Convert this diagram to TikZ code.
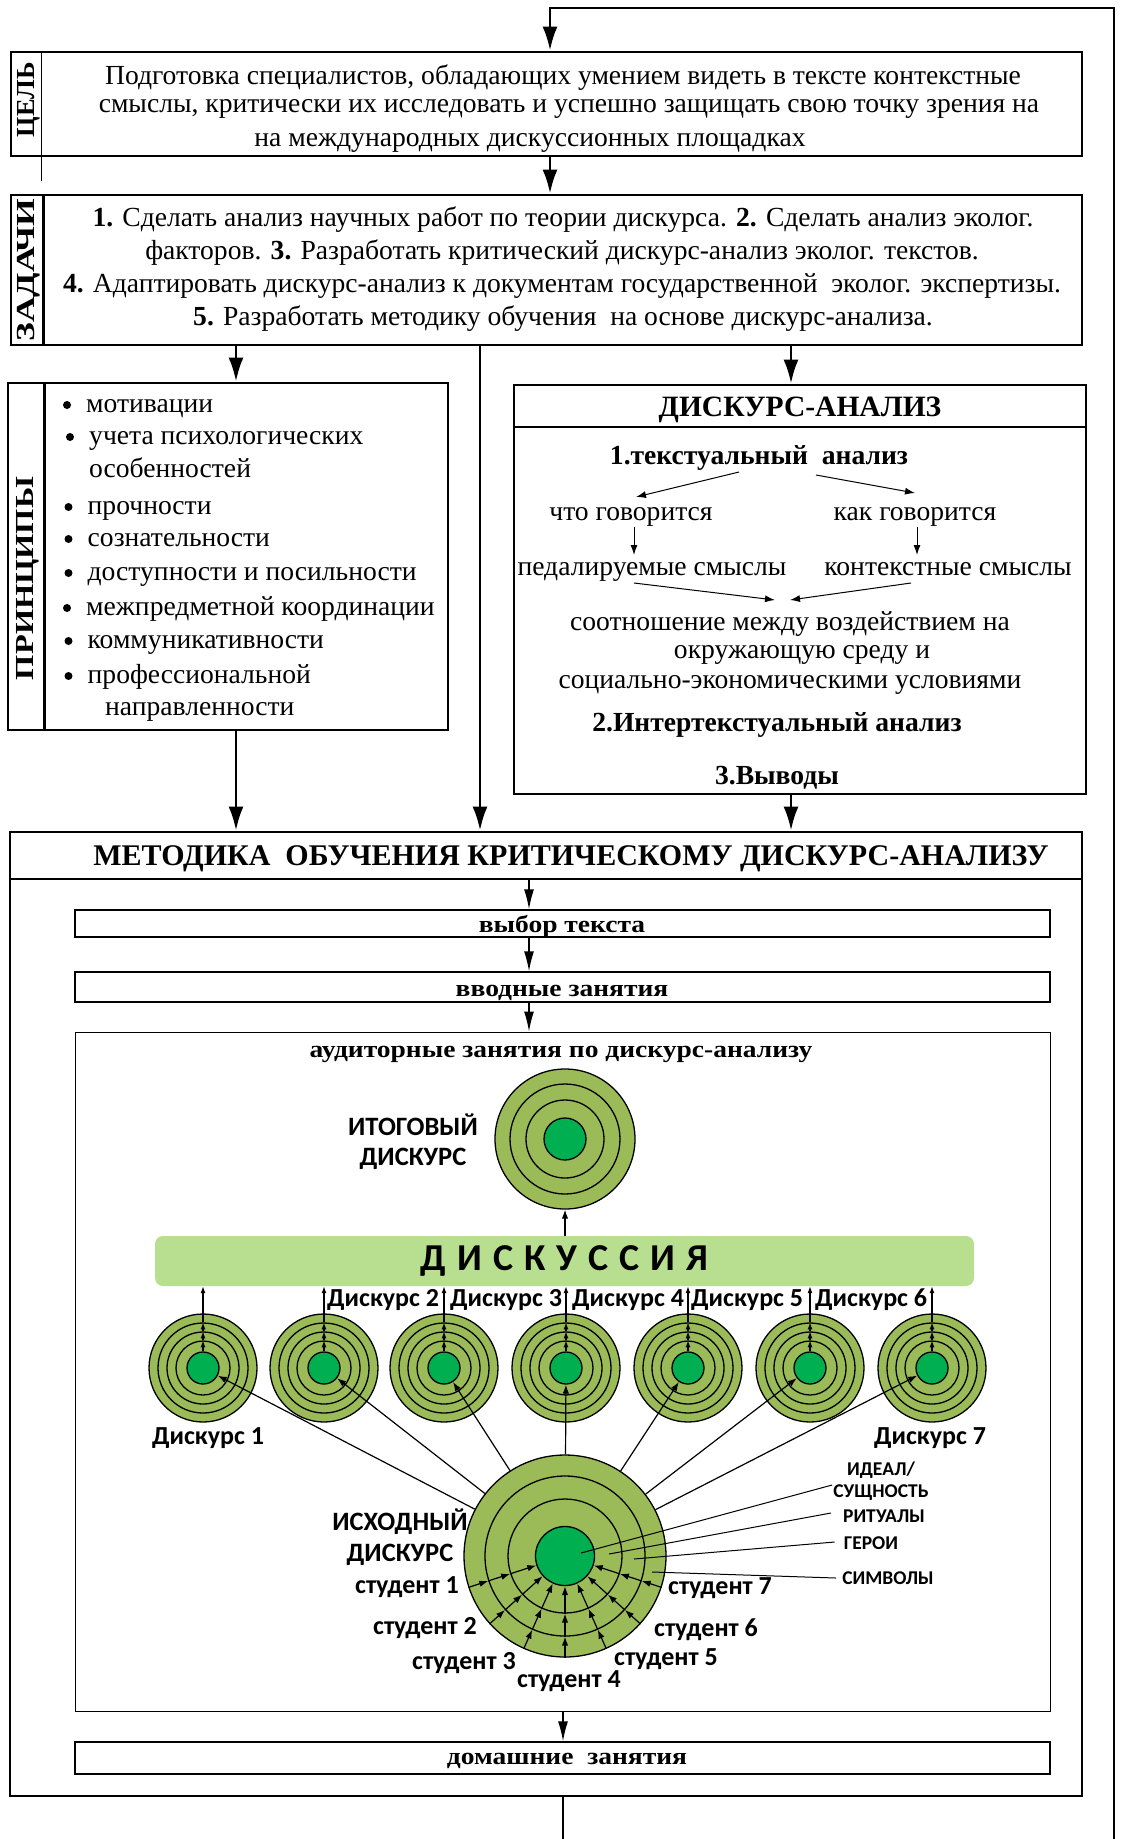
\documentclass[tikz,border=0pt]{standalone}
\usepackage{fontspec}
\usepackage{graphicx}
\setmainfont{Liberation Serif}
\newfontfamily\calib{Carlito}
\usetikzlibrary{arrows.meta,calc}
\definecolor{ringgreen}{RGB}{155,187,89}
\definecolor{coregreen}{RGB}{0,176,80}
\definecolor{barfill}{RGB}{184,223,144}
\newcommand\fs[2]{\fontsize{#1}{#2}\selectfont}
\newcommand\dgap{\kern 11pt}
\newcommand\wide[1]{\scalebox{1.146}[1]{#1}}
\begin{document}
\begin{tikzpicture}[x=1pt,y=-1pt,
  mainbox/.style={draw,line width=2.8pt,inner sep=0pt},
  subbox/.style={draw,line width=1.3pt,inner sep=0pt},
  thinbox/.style={draw,line width=0.9pt,inner sep=0pt},
  bigline/.style={line width=2.8pt},
  bigarrow/.style={line width=2.8pt,-{Latex[length=24pt,width=15pt]}},
  midarrow/.style={line width=1.4pt,-{Latex[length=20pt,width=10pt]}},
  thinarrow/.style={line width=1pt,-{Latex[length=10pt,width=7pt]}},
  ringarrow/.style={line width=1.2pt,-{Latex[length=9pt,width=6.5pt]}},
  tinyarrow/.style={line width=1.1pt,-{Latex[length=7pt,width=5pt]}},
  txt/.style={inner sep=0pt,font=\fs{27.6}{31}},
  btxt/.style={inner sep=0pt,font=\bfseries\fs{27.6}{31}},
  stxt/.style={inner sep=0pt,font=\bfseries\fs{24}{28}},
  lbl/.style={inner sep=0pt,font=\calib\bfseries\fs{26}{30}},
  slbl/.style={inner sep=0pt,font=\calib\bfseries\fs{19.5}{22}},
  ringc/.style={circle,draw,line width=1.3pt,fill=ringgreen,inner sep=0pt,minimum size=#1},
  corec/.style={circle,draw,line width=1.3pt,fill=coregreen,inner sep=0pt,minimum size=#1},
  vlabel/.style={rotate=90,inner sep=0pt,font=\bfseries\fs{26}{26}},
  item/.style={txt,anchor=base west},
]
\useasboundingbox (0,0) rectangle (1120,1839);

% columns of the vertical connectors
\coordinate (xa) at (550,0);
\coordinate (xp) at (236,0);
\coordinate (xm) at (480,0);
\coordinate (xd) at (791,0);
\coordinate (xs) at (529,0);
\coordinate (xh) at (563,0);
\coordinate (loopTop) at (1114,8);
\coordinate (loopBot) at (1114,1839);
\coordinate (outBot) at (563,1839);

% ---------- goal ----------
\node[mainbox,minimum width=1071pt,minimum height=104pt] (goal) at (546.5,104) {};
\draw[line width=0.8pt] ($(goal.north west)+(32,0)$) -- ++(0,130);
\node[vlabel] (goallbl) at (29,99.5) {\resizebox{75pt}{\height}{ЦЕЛЬ}};
\node[txt] (g1) at (563,78) {Подготовка специалистов, обладающих умением видеть в тексте контекстные};
\node[txt] (g2) at (569,109) {смыслы, критически их исследовать и успешно защищать свою точку зрения на};
\node[txt] (g3) at (530,143) {на международных дискуссионных площадках};

% ---------- tasks ----------
\node[mainbox,minimum width=1071pt,minimum height=150pt] (tasks) at (546.5,270) {};
\draw[line width=2.5pt] ($(tasks.north west)+(34,0)$) -- ($(tasks.south west)+(34,0)$);
\node[vlabel] (taskslbl) at (29,270) {\resizebox{143pt}{\height}{ЗАДАЧИ}};
\node[txt] (k1) at (563,220) {\textbf{1.} Сделать анализ научных работ по теории дискурса. \textbf{2.} Сделать анализ эколог.};
\node[txt] (k2) at (562,253) {факторов. \textbf{3.} Разработать критический дискурс-анализ эколог. текстов.};
\node[txt] (k3) at (562,286) {\textbf{4.} Адаптировать дискурс-анализ к документам государственной\ \ эколог. экспертизы.};
\node[txt] (k4) at (563,319) {\textbf{5.} Разработать методику обучения\ \ на основе дискурс-анализа.};

% ---------- principles ----------
\node[mainbox,minimum width=440pt,minimum height=347pt] (princ) at (228,556.5) {};
\draw[line width=2.5pt] ($(princ.north west)+(38,0)$) -- ($(princ.south west)+(38,0)$);
\node[vlabel] (princlbl) at (28,578.5) {\resizebox{203pt}{\height}{ПРИНЦИПЫ}};
\node[item] (p1) at (86,412) {мотивации};
\node[item] (p2) at (89,444) {учета психологических};
\node[item] (p2b) at (89,477) {особенностей};
\node[item] (p3) at (87.5,514) {прочности};
\node[item] (p4) at (87.5,546) {сознательности};
\node[item] (p5) at (87.5,580) {доступности и посильности};
\node[item] (p6) at (86,615) {межпредметной координации};
\node[item] (p7) at (87.5,648) {коммуникативности};
\node[item] (p8) at (87.5,683) {профессиональной};
\node[item] (p8b) at (105,715) {направленности};
% list bullets
\foreach \n in {p1,p2,p3,p4,p5,p6,p7,p8}
  \fill ($(\n.base west)+(-19,-7)$) circle (4pt);

% ---------- discourse analysis ----------
\node[mainbox,minimum width=572pt,minimum height=409pt] (da) at (800,589.5) {};
\node[mainbox,minimum width=572pt,minimum height=42pt] (dahead) at (800,406) {};
\node[btxt,font=\bfseries\fs{29.5}{31}] (dat) at (800,409.5) {ДИСКУРС-АНАЛИЗ};
\node[btxt] (t1) at (759,458) {1.текстуальный\ \ анализ};
\node[txt] (what) at (631,517) {что говорится};
\node[txt] (how) at (915,517) {как говорится};
\node[txt] (ped) at (652,571.5) {педалируемые смыслы};
\node[txt] (ctx) at (948,569) {контекстные смыслы};
\node[txt] (r1) at (790,624) {соотношение между воздействием на};
\node[txt] (r2) at (802,655) {окружающую среду и};
\node[txt] (r3) at (790,685) {социально-экономическими условиями};
\node[btxt] (t2) at (777,725) {2.Интертекстуальный анализ};
\node[btxt] (t3) at (777,778) {3.Выводы};
\draw[thinarrow] ($(t1)+(-20,14)$) -- ($(what)+(5,-20)$);
\draw[thinarrow] ($(t1)+(57,17)$) -- ($(how)+(0,-24)$);
\draw[thinarrow] ($(what)+(3,10)$) -- ($(ped)+(-18,-16.5)$);
\draw[thinarrow] ($(how)+(2,10)$) -- ($(ctx)+(-31,-14)$);
\draw[thinarrow] ($(ped)+(-18,11.5)$) -- ($(r1)+(-15,-24)$);
\draw[thinarrow] ($(ctx)+(-37,14)$) -- ($(r1)+(0,-24)$);

% ---------- methodology ----------
\node[mainbox,minimum width=1072pt,minimum height=964pt] (meth) at (546,1314) {};
\node[mainbox,minimum width=1072pt,minimum height=47pt] (methhead) at (546,855.5) {};
\node[btxt,font=\bfseries\fs{30}{31}] (metht) at (571,858.5) {МЕТОДИКА\ \ ОБУЧЕНИЯ КРИТИЧЕСКОМУ ДИСКУРС-АНАЛИЗУ};
\node[subbox,minimum width=975pt,minimum height=27pt] (sel) at (562.5,923.5) {};
\node[stxt] (selt) at (562,926) {\wide{выбор текста}};
\node[subbox,minimum width=975pt,minimum height=30pt] (intro) at (562.5,987) {};
\node[stxt] (introt) at (562,992.5) {\wide{вводные занятия}};
\node[thinbox,minimum width=975pt,minimum height=679pt] (aud) at (562.5,1371.5) {};
\node[stxt] (audt) at (561,1054) {\wide{аудиторные занятия по дискурс-анализу}};
\node[subbox,minimum width=975pt,minimum height=32pt] (home) at (562.5,1758) {};
\node[stxt] (homet) at (567,1761) {\wide{домашние\ \ занятия}};
\draw[midarrow] (methhead.south -| xs) -- (sel.north -| xs);
\draw[midarrow] (sel.south -| xs) -- (intro.north -| xs);
\draw[midarrow] (intro.south -| xs) -- (aud.north -| xs);
\draw[midarrow] (aud.south -| xh) -- (home.north -| xh);

% ---------- main connectors ----------
\draw[bigarrow] (loopBot) |- (xa |- loopTop) -- (goal.north -| xa);
\draw[bigarrow] (goal.south -| xa) -- (tasks.north -| xa);
\draw[bigarrow] (tasks.south -| xp) -- (princ.north -| xp);
\draw[bigarrow] (tasks.south -| xm) -- (meth.north -| xm);
\draw[bigarrow] (tasks.south -| xd) -- (da.north -| xd);
\draw[bigarrow] (princ.south -| xp) -- (meth.north -| xp);
\draw[bigarrow] (da.south -| xd) -- (meth.north -| xd);
\draw[bigline] (meth.south -| xh) -- (outBot);

% ---------- final discourse ----------
\node[ringc=140pt] (fin) at (565,1139) {};
\node[ringc=110pt] (fin-a) at (565,1139) {};
\node[ringc=78pt] (fin-b) at (565,1139) {};
\node[corec=42pt] (fin-g) at (565,1139) {};
\node[lbl,align=center,font=\calib\bfseries\fs{26.5}{30}] (finlbl) at (413,1142) {ИТОГОВЫЙ\\ДИСКУРС};

% ---------- discussion bar ----------
\node[fill=barfill,rounded corners=8pt,minimum width=819pt,minimum height=50pt,inner sep=0pt,
      font=\calib\bfseries\fs{38}{40}] (bar) at (564.5,1261)
  {Д\dgap И\dgap С\dgap К\dgap У\dgap С\dgap С\dgap И\dgap Я};
\draw[ringarrow] (fin.south |- bar.north) -- (fin.south);

% ---------- seven discourses ----------
\foreach \i/\x in {1/203,2/324,3/444,4/566,5/688,6/810,7/932} {
  \node[ringc=108pt] (s\i-o) at (\x,1368) {};
  \node[ringc=90pt] (s\i-a) at (\x,1368) {};
  \node[ringc=72pt] (s\i-b) at (\x,1368) {};
  \node[ringc=54pt] (s\i-c) at (\x,1368) {};
  \node[corec=32pt] (s\i-g) at (\x,1368) {};
  \draw[tinyarrow] (s\i-g.north) -- (s\i-c.north);
  \draw[tinyarrow] (s\i-c.north) -- (s\i-b.north);
  \draw[tinyarrow] (s\i-b.north) -- (s\i-a.north);
  \draw[tinyarrow] (s\i-a.north) -- (s\i-a.north |- bar.south);
}
\node[lbl,anchor=west] (d2) at (327,1300) {Дискурс 2};
\node[lbl,anchor=west] (d3) at (450,1300) {Дискурс 3};
\node[lbl,anchor=west] (d4) at (572,1300) {Дискурс 4};
\node[lbl,anchor=west] (d5) at (691,1300) {Дискурс 5};
\node[lbl,anchor=west] (d6) at (815,1300) {Дискурс 6};
\node[lbl] (d1) at (208,1438) {Дискурс 1};
\node[lbl] (d7) at (930,1438) {Дискурс 7};

% ---------- source discourse ----------
\node[ringc=202pt] (src) at (565,1556) {};
\node[ringc=160pt] (src-a) at (565,1556) {};
\node[ringc=114pt] (src-b) at (565,1556) {};
\node[corec=59pt] (src-g) at (565,1556) {};
\foreach \i in {1,...,7} {
  \draw[ringarrow] (src) -- (s\i-g);
}
\foreach \a in {198,222,246,270,294,318,342} {
  \draw[ringarrow] (src.\a) -- (src-a.\a);
  \draw[ringarrow] (src-a.\a) -- (src-b.\a);
  \draw[ringarrow] (src-b.\a) -- (src-g.\a);
}
\node[lbl,align=center,font=\calib\bfseries\fs{26.5}{31}] (srclbl) at (400,1537) {ИСХОДНЫЙ\\ДИСКУРС};

% students
\node[lbl] (st1) at (407,1587) {студент 1};
\node[lbl] (st2) at (425,1628) {студент 2};
\node[lbl] (st3) at (464,1663) {студент 3};
\node[lbl] (st4) at (569,1681) {студент 4};
\node[lbl] (st5) at (666,1659) {студент 5};
\node[lbl] (st6) at (706,1630) {студент 6};
\node[lbl] (st7) at (720,1588) {студент 7};

% layers of the source discourse
\node[slbl,align=center] (ideal) at (881,1481) {ИДЕАЛ/\\СУЩНОСТЬ};
\node[slbl] (rit) at (884,1516) {РИТУАЛЫ};
\node[slbl] (her) at (871,1543) {ГЕРОИ};
\node[slbl] (sym) at (888,1578) {СИМВОЛЫ};
\draw[line width=1pt] ($(ideal.west)+(-1,4)$) -- ($(src-g)+(16,-3)$);
\draw[line width=1pt] ($(rit.west)+(-12,-3)$) -- ($(src-g)+(44,-2)$);
\draw[line width=1pt] ($(her.west)+(-9,-1)$) -- ($(src-g)+(69,3)$);
\draw[line width=1pt] ($(sym.west)+(-6,0)$) -- ($(src-g)+(87,16)$);
\end{tikzpicture}
\end{document}
